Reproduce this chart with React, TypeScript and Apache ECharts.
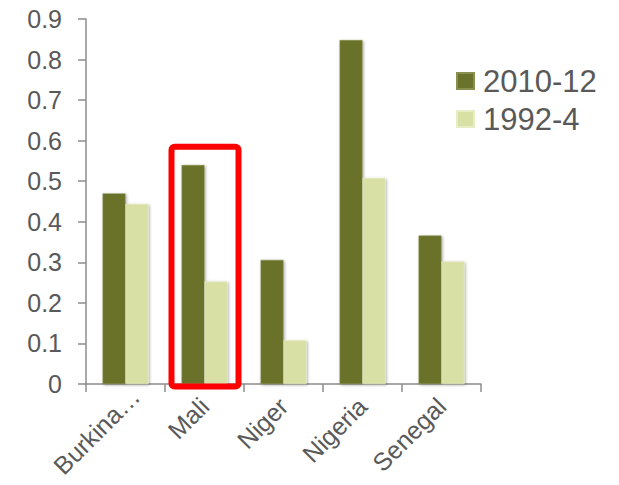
import React, { useEffect, useRef } from "react";
import * as echarts from "echarts";

const categories = ["Burkina Faso", "Mali", "Niger", "Nigeria", "Senegal"];
const series2010 = [0.47, 0.54, 0.306, 0.848, 0.366];
const series1992 = [0.444, 0.253, 0.108, 0.508, 0.302];
const seriesNames = ["2010-12", "1992-4"];
const highlightCategory = "Mali";
const highlightTop = 0.585;

export default function App() {
  const ref = useRef<HTMLDivElement>(null);
  useEffect(() => {
    if (!ref.current) return;
    const chart = echarts.init(ref.current, undefined, { renderer: "svg" });
    const font = "Liberation Sans, Arial, sans-serif";
    const barShadow = {
      shadowBlur: 3,
      shadowColor: "rgba(0,0,0,0.35)",
      shadowOffsetX: 1,
      shadowOffsetY: 1,
    };
    const xData = categories.map((c) =>
      c.length > 8
        ? { value: c, textStyle: { align: "center", padding: [7, 82, 0, 0] } }
        : c
    );
    chart.setOption({
      animation: false,
      grid: { left: 86, right: 138, top: 19, bottom: 101, containLabel: false, outerBoundsMode: "none" },
      legend: {
        orient: "vertical",
        left: 456,
        top: 64,
        padding: 0,
        itemWidth: 17,
        itemHeight: 16,
        itemGap: 4,
        icon: "rect",
        textStyle: { fontSize: 31, color: "#595959", fontFamily: font, lineHeight: 34, padding: [0, 0, 0, 4] },
        data: seriesNames,
      },
      xAxis: {
        type: "category",
        data: xData,
        axisLine: { lineStyle: { color: "#8c8c8c", width: 1.5 } },
        axisTick: { show: true, length: 8, lineStyle: { color: "#8c8c8c", width: 1.5 } },
        axisLabel: {
          rotate: 45,
          margin: 18,
          interval: 0,
          fontSize: 25,
          color: "#595959",
          fontFamily: font,
          formatter: (v: string) => (v.length > 8 ? v.slice(0, 7) + "…" : v),
        },
      },
      yAxis: {
        type: "value",
        min: 0,
        max: 0.9,
        interval: 0.1,
        splitLine: { show: false },
        axisLine: { show: true, lineStyle: { color: "#8c8c8c", width: 1.5 } },
        axisTick: { show: true, length: 8, lineStyle: { color: "#8c8c8c", width: 1.5 } },
        axisLabel: {
          margin: 24,
          fontSize: 25,
          color: "#595959",
          fontFamily: font,
          formatter: (v: number) => (v === 0 ? "0" : v.toFixed(1)),
        },
      },
      series: [
        {
          name: seriesNames[0],
          type: "bar",
          data: series2010,
          barGap: "0%",
          barCategoryGap: "42%",
          itemStyle: { color: "#6a722c", borderColor: "#8a9050", borderWidth: 0.5, ...barShadow },
        },
        {
          name: seriesNames[1],
          type: "bar",
          data: series1992,
          barGap: "0%",
          barCategoryGap: "42%",
          itemStyle: { color: "#d8e0a6", borderColor: "#e6ecc4", borderWidth: 0.5, ...barShadow },
        },
      ],
    });
    const idx = categories.indexOf(highlightCategory);
    const [cx, yTop] = chart.convertToPixel({ gridIndex: 0 }, [idx, highlightTop]) as number[];
    const [, yBottom] = chart.convertToPixel({ gridIndex: 0 }, [idx, 0]) as number[];
    const halfW = 34;
    chart.setOption({
      graphic: [
        {
          type: "rect",
          shape: { x: cx - halfW + 1, y: yTop, width: halfW * 2 - 1, height: yBottom - yTop + 2.5, r: 3 },
          style: { fill: "none", stroke: "#ff0000", lineWidth: 6 },
          z: 100,
        },
      ],
    });
    return () => chart.dispose();
  }, []);
  return (
    <div
      ref={ref}
      style={{ position: "fixed", left: 0, top: 0, width: 619, height: 485, background: "#fff" }}
    />
  );
}
